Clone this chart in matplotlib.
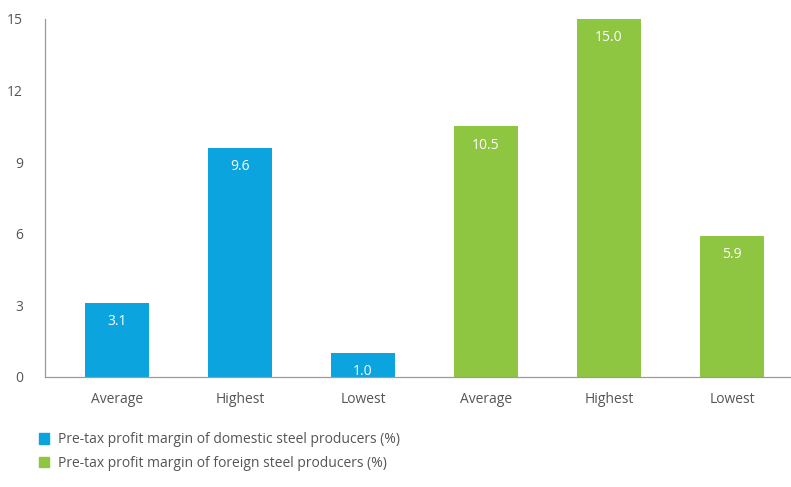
import matplotlib
matplotlib.use("Agg")
import matplotlib.pyplot as plt
from matplotlib.patches import Patch

plt.rcParams['font.family'] = ['Open Sans', 'DejaVu Sans']

categories = ["Average", "Highest", "Lowest", "Average", "Highest", "Lowest"]
domestic = [3.1, 9.6, 1.0]
foreign = [10.5, 15.0, 5.9]
labels = ["Pre-tax profit margin of domestic steel producers (%)",
          "Pre-tax profit margin of foreign steel producers (%)"]
yticks = [0, 3, 6, 9, 12, 15]

blue = "#0ca4df"
green = "#8fc641"
txt = "#555555"

fig = plt.figure(figsize=(7.91, 4.87), dpi=100)
ax = fig.add_axes([0.057, 0.226, 0.943, 0.735])

xd = [0, 1, 2]
xf = [3, 4, 5]
w = 0.52
bd = ax.bar(xd, domestic, width=w, color=blue)
bf = ax.bar(xf, foreign, width=w, color=green)

for bars, vals in ((bd, domestic), (bf, foreign)):
    for b, v in zip(bars, vals):
        ax.annotate(f"{v:.1f}", (b.get_x() + b.get_width() / 2, v),
                    xytext=(0, -13.5), textcoords="offset points",
                    ha="center", va="center", color="white", fontsize=10)

ax.set_xlim(-0.585, 5.48)
ax.set_ylim(0, 15)
ax.set_yticks(yticks)
ax.set_yticklabels([str(t) for t in yticks])
ax.set_xticks(range(len(categories)))
ax.set_xticklabels(categories)
ax.tick_params(axis="both", length=0, colors=txt, labelsize=10)
ax.tick_params(axis="y", pad=16)
ax.tick_params(axis="x", pad=11)
for s in ("top", "right"):
    ax.spines[s].set_visible(False)
for s in ("left", "bottom"):
    ax.spines[s].set_color("#9a9a9a")
    ax.spines[s].set_linewidth(0.9)

handles = [Patch(color=blue), Patch(color=green)]
fig.legend(handles, labels, loc="upper left", bbox_to_anchor=(0.042, 0.124),
           frameon=False, fontsize=10, handlelength=0.75, handleheight=0.8,
           handletextpad=0.6, labelspacing=0.62, labelcolor=txt, borderaxespad=0)

fig.savefig("out.png", dpi=100)
